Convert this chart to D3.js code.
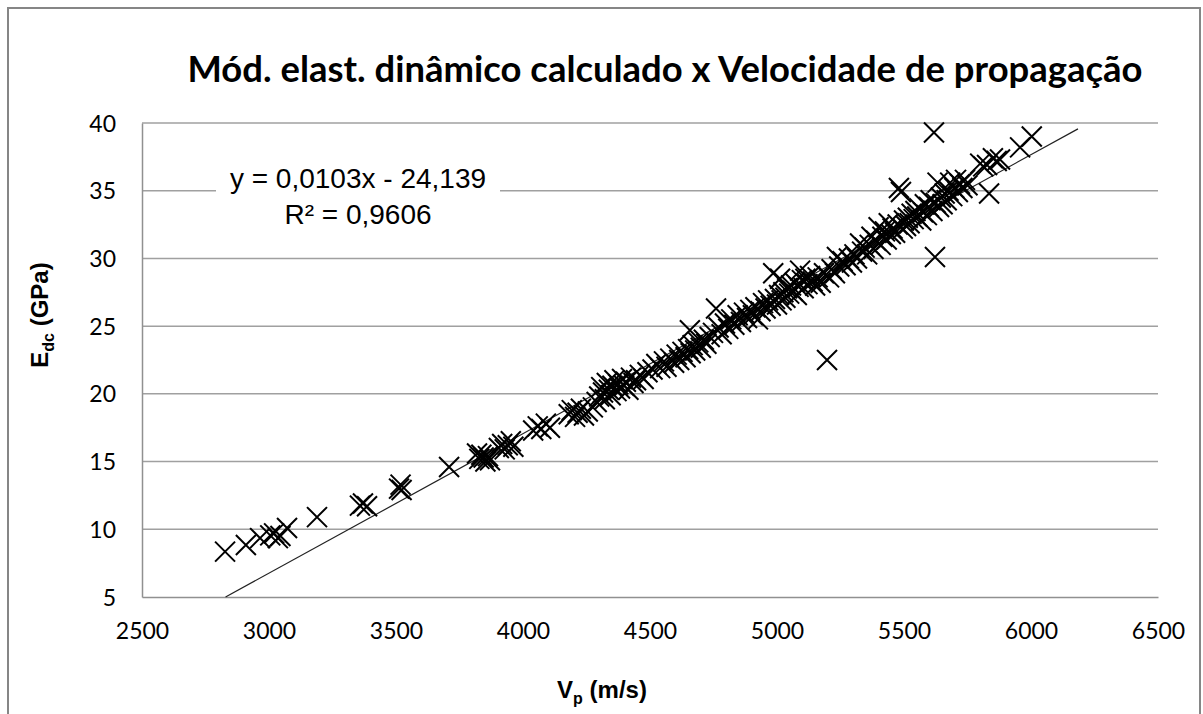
<!DOCTYPE html>
<html>
<head>
<meta charset="utf-8">
<script src="https://cdn.jsdelivr.net/npm/d3@7"></script>
<style>
  body { margin: 0; background: #fff; }
  text { fill: #000; }
</style>
</head>
<body>
<div id="vis"></div>
<script>
// Vp (m/s) and Edc (GPa)
const vp = [
  2827, 2909, 2965, 3005, 3020, 3035, 3045, 3071, 3189, 3358, 3370, 3386, 3512, 3518, 3522, 3709,
  3819, 3828, 3836, 3845, 3852, 3862, 3870, 3905, 3918, 3928, 3940, 3952, 3962,
  4040, 4058, 4072, 4090, 4106, 4180, 4192, 4205, 4215, 4228, 4240, 4255,
  4275, 4290, 4300, 4308, 4315, 4322, 4330, 4338, 4345, 4352, 4360, 4368, 4375, 4382, 4390, 4398,
  4405, 4415, 4425, 4435, 4445, 4460, 4475, 4490,
  4510, 4525, 4540, 4555, 4565, 4580, 4595, 4605, 4615, 4628, 4640, 4650, 4657, 4660, 4668, 4678,
  4690, 4700, 4712, 4722, 4735,
  4748, 4760, 4770, 4782, 4795, 4808, 4820, 4832, 4845, 4858, 4870, 4882, 4895, 4905, 4915, 4925,
  4935, 4945, 4955, 4965, 4975, 4985, 4992,
  5000, 5008, 5012, 5018, 5025, 5033, 5040, 5048, 5055, 5062, 5070, 5078, 5085, 5091, 5098, 5105,
  5112, 5120, 5130, 5140, 5150, 5160, 5172, 5185, 5197, 5205, 5215, 5228, 5236, 5245, 5258, 5270,
  5283, 5295,
  5305, 5315, 5327, 5335, 5345, 5355, 5365, 5372, 5380, 5390, 5400, 5408, 5415, 5425, 5432, 5440,
  5448, 5455, 5465, 5475, 5480, 5488, 5495,
  5500, 5508, 5515, 5522, 5530, 5538, 5545, 5552, 5560, 5568, 5575, 5582, 5590, 5598, 5605, 5612,
  5618, 5622, 5625, 5632, 5638, 5645, 5652, 5660, 5668, 5675, 5682, 5690, 5698, 5705, 5712, 5720,
  5730, 5740, 5750,
  5800, 5812, 5827, 5835, 5850, 5865, 5878, 5957, 6003
];
const edc = [
  8.35, 8.84, 9.35, 9.55, 9.7, 9.35, 9.5, 10.1, 10.9, 11.75, 11.9, 11.7, 13.0, 13.3, 12.9, 14.6,
  15.6, 15.2, 15.5, 15.3, 15.0, 15.4, 15.1, 16.0, 16.3, 15.9, 16.2, 16.5, 16.1,
  17.3, 17.6, 17.4, 17.8, 17.5, 18.5, 18.8, 18.3, 18.6, 18.9, 18.4, 18.7,
  19.0, 19.4, 19.8, 20.5, 20.1, 19.6, 20.8, 20.3, 19.9, 20.6, 21.0, 20.2, 20.7, 20.4, 21.1, 20.6,
  20.9, 20.3, 21.2, 20.8, 21.0, 21.4, 21.1, 21.6,
  21.8, 22.2, 21.9, 22.4, 22.0, 22.6, 22.3, 22.9, 22.5, 23.1, 22.7, 23.3, 24.7, 23.0, 23.6, 23.2,
  23.8, 23.4, 24.0, 23.7, 24.2,
  24.5, 26.3, 24.9, 24.4, 25.2, 24.8, 25.5, 25.1, 25.8, 25.3, 26.0, 25.6, 26.2, 25.8, 26.4, 25.5,
  26.1, 26.7, 26.3, 26.9, 26.5, 28.9, 27.0,
  26.6, 27.3, 28.5, 26.9, 27.5, 27.1, 27.8, 27.4, 28.0, 27.6, 28.2, 27.3, 27.9, 29.1, 28.4, 27.8,
  28.5, 28.1, 28.7, 28.3, 28.0, 28.6, 28.2, 28.9, 22.5, 28.6, 29.2, 28.9, 30.1, 29.4, 29.8, 29.5,
  30.0, 29.7,
  30.3, 30.0, 31.1, 30.5, 30.8, 30.3, 31.0, 31.6, 30.7, 31.3, 32.3, 31.0, 31.6, 32.0, 31.4, 32.6,
  31.8, 32.2, 31.9, 32.5, 35.2, 34.9, 32.2,
  32.8, 32.4, 33.0, 32.6, 33.3, 32.9, 33.5, 33.1, 33.7, 32.8, 33.4, 34.0, 33.2, 33.8, 34.3, 33.5,
  39.3, 30.1, 34.1, 35.6, 33.8, 34.5, 34.0, 34.8, 34.3, 35.0, 35.6, 34.6, 35.2, 35.8, 34.9, 35.5,
  35.2, 35.8, 35.4,
  37.0, 36.8, 36.9, 34.8, 37.4, 37.2, 37.3, 38.2, 39.0
];

const xTicks = [2500, 3000, 3500, 4000, 4500, 5000, 5500, 6000, 6500];
const yTicks = [5, 10, 15, 20, 25, 30, 35, 40];

// linear trendline shown by Excel
const slope = 0.0103;
const intercept = -24.139;
const trendRange = [2829, 6185];
const eqLines = ['y = 0,0103x - 24,139', 'R² = 0,9606'];

const title = 'Mód. elast. dinâmico calculado x Velocidade de propagação';

const W = 1203, H = 714;
const plot = {left: 142, right: 1158, top: 123, bottom: 597};

const svg = d3.select('#vis')
  .append('svg')
  .attr('width', W)
  .attr('height', H);

svg.append('rect')
  .attr('x', 8).attr('y', 8)
  .attr('width', 1192).attr('height', 740)
  .attr('fill', '#fff')
  .attr('stroke', '#868686')
  .attr('stroke-width', 2);

const x = d3.scaleLinear().domain([2500, 6500]).range([plot.left, plot.right]);
const y = d3.scaleLinear().domain([5, 40]).range([plot.bottom, plot.top]);

// gridlines
svg.append('g')
  .selectAll('line')
  .data(yTicks.slice(1))
  .join('line')
  .attr('x1', plot.left).attr('x2', plot.right)
  .attr('y1', d => y(d)).attr('y2', d => y(d))
  .attr('stroke', '#a0a0a0')
  .attr('stroke-width', 1.5);

// axes
const yAxis = d3.axisLeft(y).tickValues(yTicks).tickSize(0).tickPadding(26);
const gy = svg.append('g')
  .attr('transform', `translate(${plot.left},0)`)
  .call(yAxis);

const xAxis = d3.axisBottom(x).tickValues(xTicks).tickFormat(d3.format('d')).tickSize(0).tickPadding(26);
const gx = svg.append('g')
  .attr('transform', `translate(0,${plot.bottom})`)
  .call(xAxis);

[gx, gy].forEach(g => {
  g.select('.domain').attr('stroke', '#909090').attr('stroke-width', 1.5);
  g.selectAll('text')
    .style('font-family', 'Lato, "Open Sans", sans-serif')
    .style('font-size', '23px')
    .attr('fill', '#000');
});
gy.selectAll('text').attr('dy', '0.35em');
gx.selectAll('text').attr('dy', '0.71em');

// equation label with white background
const eqG = svg.append('g');
eqG.append('rect')
  .attr('x', 216).attr('y', 160)
  .attr('width', 284).attr('height', 72)
  .attr('fill', '#fff');
eqG.selectAll('text')
  .data(eqLines)
  .join('text')
  .attr('x', 358)
  .attr('y', (d, i) => 188 + i * 36)
  .attr('text-anchor', 'middle')
  .style('font-family', '"Liberation Sans", Arial, sans-serif')
  .style('font-size', '28px')
  .text(d => d);

// trendline
svg.append('line')
  .attr('x1', x(trendRange[0])).attr('y1', y(slope * trendRange[0] + intercept))
  .attr('x2', x(trendRange[1])).attr('y2', y(slope * trendRange[1] + intercept))
  .attr('stroke', '#222')
  .attr('stroke-width', 1.2);

// x markers
const pts = vp.map((v, i) => ({vp: v, edc: edc[i]}));
const s = 10;
svg.append('g')
  .selectAll('path')
  .data(pts)
  .join('path')
  .attr('d', d => {
    const cx = x(d.vp), cy = y(d.edc);
    return `M${cx - s},${cy - s}L${cx + s},${cy + s}M${cx - s},${cy + s}L${cx + s},${cy - s}`;
  })
  .attr('stroke', '#000')
  .attr('stroke-width', 2)
  .attr('fill', 'none');

// title
svg.append('text')
  .attr('x', 665)
  .attr('y', 82)
  .attr('text-anchor', 'middle')
  .attr('textLength', 955)
  .attr('lengthAdjust', 'spacingAndGlyphs')
  .style('font-family', 'Lato, "Open Sans", sans-serif')
  .style('font-weight', 'bold')
  .style('font-size', '37px')
  .text(title);

// axis titles
const yt = svg.append('text')
  .attr('transform', 'translate(48,315) rotate(-90)')
  .attr('text-anchor', 'middle')
  .style('font-family', '"Liberation Sans", Arial, sans-serif')
  .style('font-weight', 'bold')
  .style('font-size', '24px');
yt.append('tspan').text('E');
yt.append('tspan').attr('dy', 6).style('font-size', '16px').text('dc');
yt.append('tspan').attr('dy', -6).text(' (GPa)');

const xt = svg.append('text')
  .attr('x', 602)
  .attr('y', 698)
  .attr('text-anchor', 'middle')
  .style('font-family', '"Liberation Sans", Arial, sans-serif')
  .style('font-weight', 'bold')
  .style('font-size', '24px');
xt.append('tspan').text('V');
xt.append('tspan').attr('dy', 6).style('font-size', '16px').text('p');
xt.append('tspan').attr('dy', -6).text(' (m/s)');
</script>
</body>
</html>
